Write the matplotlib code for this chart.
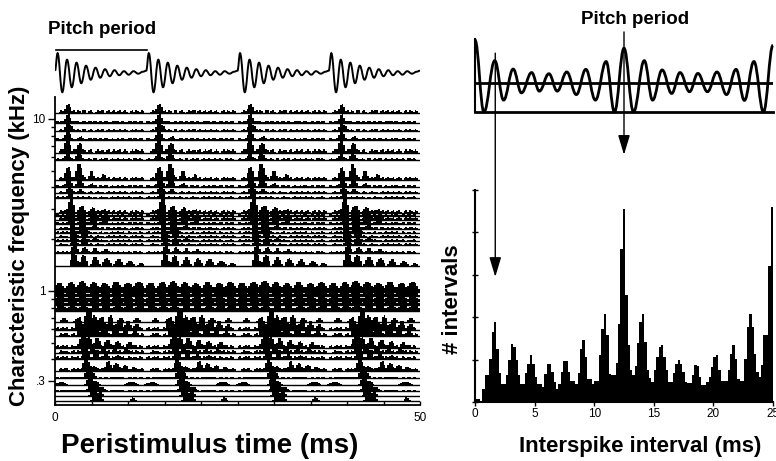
import numpy as np
import matplotlib.pyplot as plt
from matplotlib.path import Path
from matplotlib.patches import PathPatch

plt.rcParams['font.family'] = ['Liberation Sans', 'DejaVu Sans']

# ---- stimulus waveform, extrema within one pitch period (ms, px) ----
wave_t = [0.0, 0.35, 1.0, 1.65, 2.3, 2.95, 3.6, 4.25, 4.9, 5.55, 6.2, 6.85,
          7.5, 8.15, 8.8, 9.45, 10.1, 10.75, 11.4, 12.05]
wave_v = [0, 17.5, -21.5, 11, -16.5, 8, -12.5, 5, -9, 3, -7, 1.5,
          -5.5, 0.5, -4.5, -0.5, -4, -0.5, -3, -1]
pitch_period = 12.5

# ---- autocorrelation of the stimulus (lag ms, relative value) ----
ac_t = [0.0, 0.75, 1.66, 2.4, 3.2, 3.9, 4.75, 5.4, 6.2, 6.9, 7.7, 8.5, 9.3,
        10.1, 11.0, 11.7, 12.5, 13.3, 14.2, 14.9, 15.7, 16.5, 17.2, 18.0,
        18.7, 19.5, 20.3, 21.1, 21.9, 22.6, 23.4, 24.2, 25.0]
ac_v = [1.48, -1.0, 0.77, -0.59, 0.48, -0.34, 0.36, -0.28, 0.32, -0.28, 0.38,
        -0.40, 0.47, -0.59, 0.74, -1.0, 1.2, -1.0, 0.77, -0.59, 0.45, -0.36,
        0.36, -0.30, 0.33, -0.30, 0.38, -0.40, 0.47, -0.60, 0.74, -1.0, 1.3]

# ---- pooled interspike interval histogram, 0.2 ms bins ----
isi_bin = 0.2
isi_counts = [
    0.08, 0.08, 0.00, 0.31, 0.63, 0.63, 1.02, 1.65, 1.89, 1.24,
    0.69, 0.43, 0.43, 0.63, 0.98, 1.36, 1.30, 0.98, 0.63, 0.43,
    0.43, 0.69, 0.90, 1.10, 0.90, 0.60, 0.43, 0.43, 0.35, 0.67,
    0.90, 0.90, 0.70, 0.47, 0.31, 0.43, 0.70, 0.97, 0.97, 0.70,
    0.50, 0.50, 0.43, 0.69, 1.26, 1.46, 1.06, 0.55, 0.55, 0.43,
    0.50, 0.50, 1.10, 1.73, 2.07, 1.57, 0.67, 0.63, 0.63, 0.92,
    1.83, 3.62, 4.55, 2.52, 1.34, 0.75, 0.63, 0.84, 1.39, 1.89,
    2.07, 1.42, 0.75, 0.57, 0.47, 0.75, 1.06, 1.30, 1.34, 1.06,
    0.75, 0.47, 0.47, 0.69, 0.90, 1.00, 0.90, 0.70, 0.47, 0.45,
    0.45, 0.63, 0.87, 0.84, 0.60, 0.39, 0.39, 0.47, 0.60, 0.83,
    1.06, 1.10, 0.75, 0.50, 0.50, 0.50, 0.75, 1.14, 1.34, 1.02,
    0.55, 0.50, 0.50, 1.02, 1.77, 2.07, 1.77, 1.14, 0.70, 0.60,
    0.87, 1.57, 1.57, 3.20, 4.60]

# ---- PSTH rows: CF (kHz), peaks per pitch period (ms, height px, width ms) ----
row_cf = [10.8, 9.5, 8.5, 7.55, 6.35, 5.78, 4.42, 4.02, 3.71, 3.47,
          2.84, 2.73, 2.59, 2.45, 2.29, 2.17, 2.06, 1.95, 1.85, 1.66, 1.40,
          0.99, 0.935, 0.875, 0.83, 0.765, 0.66, 0.593, 0.547, 0.466, 0.436,
          0.402, 0.343, 0.312, 0.284, 0.262, 0.245, 0.229]
row_peaks = [
    [(1.8, 9, 0.8)],
    [(1.8, 9, 0.7)],
    [(1.8, 10, 0.7), (2.3, 5, 0.5)],
    [(1.8, 10, 0.8), (3.6, 4, 0.5)],
    [(1.7, 15, 0.9), (3.4, 10, 0.9)],
    [(1.7, 7, 0.7), (3.3, 7, 0.9)],
    [(1.8, 13, 0.9), (3.3, 16, 1.0), (5.0, 9, 0.7), (6.7, 6, 0.6)],
    [(1.9, 10, 0.9), (3.4, 9, 0.9), (5.1, 4, 0.6)],
    [(2.0, 8, 0.8), (3.5, 4, 0.6)],
    [(2.1, 6, 0.7)],
    [(2.2, 16, 0.9), (3.6, 7, 0.7), (5.2, 6, 0.7), (6.8, 4, 0.6)],
    [(2.2, 8, 0.7), (3.7, 10, 0.9), (5.2, 6, 0.7)],
    [(2.3, 10, 0.8), (3.7, 11, 0.9), (5.3, 8, 0.8), (6.8, 5, 0.7)],
    [(2.3, 8, 0.7), (3.8, 9, 0.9), (5.3, 7, 0.8), (6.9, 4, 0.7)],
    [(2.4, 8, 0.7), (3.8, 8, 0.9), (5.4, 5, 0.7)],
    [(2.4, 7, 0.7), (3.9, 8, 0.9)],
    [(2.5, 7, 0.7), (4.0, 6, 0.8)],
    [(2.5, 6, 0.7), (4.0, 5, 0.7), (5.5, 4, 0.7)],
    [(2.6, 7, 0.7), (4.0, 7, 0.8)],
    [(2.7, 10, 0.8), (4.1, 6, 0.8), (5.5, 5, 0.7), (7.0, 4, 0.7)],
    [(2.6, 14, 0.9), (3.9, 11, 0.9), (5.5, 9, 0.9), (7.1, 8, 0.9),
     (8.7, 7, 0.9), (10.3, 5, 0.9), (11.8, 3, 0.7)],
    [(0.6, 9, 1.5), (2.2, 10, 1.5), (3.7, 11, 1.5), (5.3, 10, 1.5),
     (6.8, 9, 1.5), (8.4, 10, 1.5), (10.0, 9, 1.5), (11.5, 10, 1.5)],
    [(0.6, 4.5, 1.5), (2.2, 4.5, 1.5), (3.7, 4.5, 1.5), (5.3, 4.5, 1.5),
     (6.8, 4.5, 1.5), (8.4, 4.5, 1.5), (10.0, 4.5, 1.5), (11.5, 4.5, 1.5)],
    [(0.7, 5, 1.5), (2.3, 5, 1.5), (3.8, 5, 1.5), (5.4, 5, 1.5),
     (6.9, 5, 1.5), (8.5, 5, 1.5), (10.1, 5, 1.5), (11.6, 5, 1.5)],
    [(0.7, 4.5, 1.5), (2.3, 4.5, 1.5), (3.8, 4.5, 1.5), (5.4, 4.5, 1.5),
     (6.9, 4.5, 1.5), (8.5, 4.5, 1.5), (10.1, 4.5, 1.5), (11.6, 4.5, 1.5)],
    [(0.8, 6, 1.5), (2.4, 6, 1.5), (3.9, 6, 1.5), (5.5, 6, 1.5),
     (7.0, 6, 1.5), (8.6, 6, 1.5), (10.2, 6, 1.5), (11.7, 6, 1.5)],
    [(4.8, 14, 0.4), (1.2, 4, 0.7), (3.0, 3, 0.7), (6.3, 4, 0.7),
     (9.0, 4, 0.7), (11.2, 4, 0.7)],
    [(3.3, 13, 0.9), (4.4, 18, 0.9), (5.4, 15, 1.0), (6.5, 13, 0.9),
     (7.6, 15, 0.9), (8.8, 11, 0.9), (10.0, 9, 0.9), (11.2, 6, 0.8)],
    [(3.6, 12, 0.9), (4.4, 15, 0.9), (5.6, 12, 0.9), (6.8, 10, 0.9),
     (8.2, 9, 0.9), (9.6, 7, 0.9), (11.0, 5, 0.8)],
    [(3.8, 15, 1.1), (4.6, 12, 0.9), (5.8, 10, 0.9), (7.2, 8, 0.9),
     (8.6, 7, 0.8), (10.2, 6, 0.8)],
    [(4.0, 10, 0.9), (5.2, 7, 0.8), (6.6, 6, 0.8), (8.2, 5, 0.8), (9.8, 4, 0.8)],
    [(4.2, 12, 0.9), (5.6, 7, 0.8), (7.0, 5, 0.8), (8.6, 4, 0.8)],
    [(4.3, 12, 1.1), (5.4, 5, 0.9), (7.3, 10, 0.7), (8.4, 8, 0.9),
     (9.6, 6, 0.9), (10.8, 4, 0.9)],
    [(4.6, 11, 0.9), (5.2, 6, 0.7)],
    [(4.8, 9, 0.9), (5.6, 4, 0.9), (0.8, 3, 1.5), (10.5, 3, 1.5)],
    [(5.0, 10, 0.9), (5.8, 6, 0.9), (6.5, 4, 0.9)],
    [(5.3, 8, 0.9), (6.2, 4, 0.9)],
    [(5.5, 9, 0.9), (6.1, 5, 0.9), (10.7, 4, 0.6)],
]
# small background discharges (height px) and their times within a period
row_bg = [3, 2, 2, 2, 3.5, 1.5, 3, 2, 1.5, 1.5,
          3, 2, 3, 2, 2, 1.5, 1.5, 1.5, 1.5, 2, 0,
          5, 2.5, 2.5, 2, 2.5, 0, 3, 3, 3, 2.5,
          2.5, 3, 1, 0, 1, 0, 0]
bg_times_a = [0.9, 1.5, 2.6, 3.2, 4.0, 4.8, 5.9, 6.5, 7.3, 8.1, 8.8, 9.6,
              10.6, 11.2, 11.9]
bg_times_b = [0.3, 1.1, 1.6, 2.4, 3.1, 3.9, 4.7, 5.5, 6.3, 7.0, 7.9, 8.6,
              9.3, 10.2, 11.0, 11.7]

W, H = 776, 461
PX_PER_DECADE = 172.0


def fig_rect(x0, y0, x1, y1):
    return [x0 / W, 1 - y1 / H, (x1 - x0) / W, (y1 - y0) / H]


def smooth_path(ts, vs):
    verts = [(ts[0], vs[0])]
    codes = [Path.MOVETO]
    for i in range(len(ts) - 1):
        dt = ts[i + 1] - ts[i]
        verts += [(ts[i] + 0.4 * dt, vs[i]), (ts[i + 1] - 0.4 * dt, vs[i + 1]),
                  (ts[i + 1], vs[i + 1])]
        codes += [Path.CURVE4] * 3
    return Path(verts, codes)


fig = plt.figure(figsize=(W / 100, H / 100), dpi=100)

# ---------------- left: PSTHs ----------------
ax_p = fig.add_axes(fig_rect(55, 97, 420, 405))
ax_p.set_yscale('log')
ax_p.set_xlim(0, 50)
ax_p.set_ylim(0.217, 13.4)

t_bins = np.arange(0, 50, 0.25)
centers = t_bins + 0.125
for i, cf in enumerate(row_cf):
    events = list(row_peaks[i])
    if row_bg[i] > 0:
        bgt = bg_times_a if i % 2 == 0 else bg_times_b
        events += [(b, row_bg[i], 0.45) for b in bgt]
    prof = np.zeros(len(t_bins))
    for k in range(4):
        for (t, h, w) in events:
            c = t + pitch_period * k
            half = w / 2 + 0.125
            prof = np.maximum(prof, h * np.clip(1.25 - np.abs(centers - c) / half, 0, 1))
    x = np.append(t_bins, 50)
    y = np.append(prof, prof[-1])
    ax_p.fill_between(x, cf, cf * 10 ** (y / PX_PER_DECADE), step='post',
                      color='black', lw=0)
    ax_p.axhline(cf, color='black', lw=1.0)

for s in ['top', 'right']:
    ax_p.spines[s].set_visible(False)
ax_p.spines['left'].set_linewidth(1.3)
ax_p.spines['bottom'].set_linewidth(1.3)
ax_p.set_yticks([0.3, 1, 10])
ax_p.set_yticklabels(['.3', '1', '10'])
ax_p.set_yticks([0.4, 0.5, 0.6, 0.7, 0.8, 0.9, 2, 3, 4, 5, 6, 7, 8, 9], minor=True)
ax_p.yaxis.set_minor_formatter(plt.NullFormatter())
ax_p.tick_params(axis='y', which='major', direction='out', length=5, width=1,
                 labelsize=8.5, pad=2)
ax_p.tick_params(axis='y', which='minor', direction='out', length=3, width=1)
ax_p.set_xticks(np.arange(0, 51, 5))
ax_p.set_xticklabels(['0'] + [''] * 9 + ['50'])
ax_p.tick_params(axis='x', direction='in', length=3, width=1, labelsize=8.5, pad=5)

# ---------------- left: stimulus waveform ----------------
ax_w = fig.add_axes(fig_rect(55, 20, 420, 95))
ax_w.set_xlim(0, 50)
ax_w.set_ylim(-24.3, 50.7)
ax_w.axis('off')
wt, wv = [], []
for k in range(4):
    wt += [t + pitch_period * k for t in wave_t]
    wv += wave_v
wt.append(50.0)
wv.append(0.0)
ax_w.add_patch(PathPatch(smooth_path(wt, wv), fill=False, lw=1.4, color='black'))
ax_w.plot([0.15, 12.6], [20.7, 20.7], color='black', lw=1.2)
ax_w.text(6.4, 41.7, 'Pitch period', ha='center', va='center',
          fontsize=13.5, fontweight='bold')

# ---------------- right: autocorrelation ----------------
ax_a = fig.add_axes(fig_rect(475, 39.5, 773, 112))
ax_a.set_xlim(0, 25)
ax_a.set_ylim(-1, 1.5)
for s in ['top', 'right']:
    ax_a.spines[s].set_visible(False)
ax_a.spines['bottom'].set_linewidth(2)
ax_a.spines['left'].set_linewidth(1.5)
ax_a.set_xticks([])
ax_a.set_yticks([])
ax_a.axhline(0, color='black', lw=2)
ax_a.add_patch(PathPatch(smooth_path(ac_t, ac_v), fill=False, lw=2,
                         color='black', clip_on=False))
ax_a.text(13.4, 2.2, 'Pitch period', ha='center', va='center',
          fontsize=13.5, fontweight='bold')

# ---------------- right: ISI histogram ----------------
ax_h = fig.add_axes(fig_rect(475, 190, 773, 402))
edges = np.arange(len(isi_counts) + 1) * isi_bin
ax_h.fill_between(edges, 0, list(isi_counts) + [isi_counts[-1]], step='post',
                  color='black', lw=0)
ax_h.set_xlim(0, 25)
ax_h.set_ylim(0, 5)
for s in ['top', 'right']:
    ax_h.spines[s].set_visible(False)
ax_h.spines['left'].set_linewidth(1.5)
ax_h.spines['bottom'].set_linewidth(1.5)
ax_h.set_xticks([0, 5, 10, 15, 20, 25])
ax_h.set_yticks([0, 1, 2, 3, 4, 5])
ax_h.set_yticklabels([])
ax_h.tick_params(axis='x', direction='out', length=3, width=1, labelsize=8.5, pad=1)
ax_h.tick_params(axis='y', direction='inout', length=5, width=1)

arrow = dict(arrowstyle='-|>,head_length=0.6,head_width=0.18', color='black',
             lw=1, shrinkA=0, shrinkB=0, mutation_scale=20)
ax_h.annotate('', xy=(12.5, 5.83), xycoords=ax_h.transData,
              xytext=(12.5, 1.76), textcoords=ax_a.transData,
              arrowprops=arrow, annotation_clip=False)
ax_h.annotate('', xy=(1.7, 2.95), xycoords=ax_h.transData,
              xytext=(1.7, 1.03), textcoords=ax_a.transData,
              arrowprops=arrow, annotation_clip=False)

# ---------------- axis titles ----------------
fig.text(20 / W, 1 - 246 / H, 'Characteristic frequency (kHz)', rotation=90,
         ha='center', va='center', fontsize=16, fontweight='bold')
fig.text(210 / W, 1 - 453 / H, 'Peristimulus time (ms)', ha='center',
         va='baseline', fontsize=20, fontweight='bold')
fig.text(453 / W, 1 - 299 / H, '# intervals', rotation=90, ha='center',
         va='center', fontsize=16, fontweight='bold')
fig.text(640 / W, 1 - 452 / H, 'Interspike interval (ms)', ha='center',
         va='baseline', fontsize=16, fontweight='bold')

fig.savefig('out.png', dpi=100)
